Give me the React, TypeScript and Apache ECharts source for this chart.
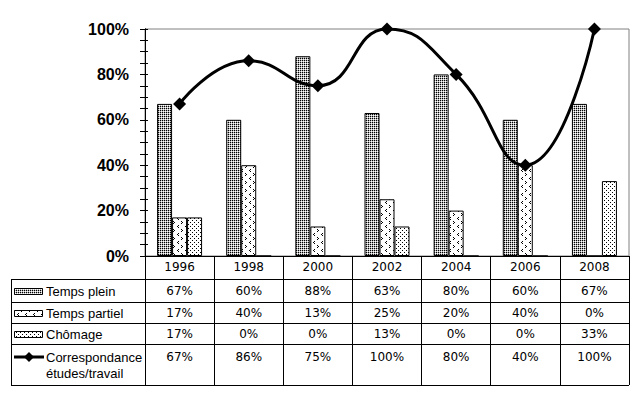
import React, { useEffect, useRef } from 'react';
import * as echarts from 'echarts';

const categories = ['1996', '1998', '2000', '2002', '2004', '2006', '2008'];
const tempsPlein = [67, 60, 88, 63, 80, 60, 67];
const tempsPartiel = [17, 40, 13, 25, 20, 40, 0];
const chomage = [17, 0, 0, 13, 0, 0, 33];
const correspondance = [67, 86, 75, 100, 80, 40, 100];
const seriesNames = ['Temps plein', 'Temps partiel', 'Chômage', 'Correspondance\nétudes/travail'];

function makePattern(w: number, h: number, pts: number[][], grey: number[][] = []) {
  const c = document.createElement('canvas');
  c.width = w;
  c.height = h;
  const ctx = c.getContext('2d')!;
  ctx.fillStyle = '#fff';
  ctx.fillRect(0, 0, w, h);
  ctx.fillStyle = '#000';
  pts.forEach(([x, y]) => ctx.fillRect(x, y, 1, 1));
  ctx.fillStyle = '#b4b4b4';
  grey.forEach(([x, y]) => ctx.fillRect(x, y, 1, 1));
  return { image: c.toDataURL(), repeat: 'repeat', imageWidth: w, imageHeight: h } as any;
}

const FONT = 'Arial, "Liberation Sans", sans-serif';
const NUMFONT = '"DejaVu Sans", Arial, sans-serif';

export default function App() {
  const ref = useRef<HTMLDivElement>(null);
  useEffect(() => {
    const chart = echarts.init(ref.current!, null, { renderer: 'svg' });
    const pPlein = makePattern(2, 2, [[0, 0]], [[1, 0], [0, 1]]);
    const pPartiel = makePattern(8, 8, [[2, 1], [1, 2], [2, 3], [5, 5], [6, 6], [5, 7]]);
    const pChom = makePattern(4, 4, [[0, 0], [2, 2]]);
    const patterns = [pPlein, pPartiel, pChom];
    const barData = [tempsPlein, tempsPartiel, chomage];

    const gridLeft = 145, gridTop = 29, gridRight = 10, gridBottom = 143;
    const axisY = 399 - gridBottom;
    const rowLines = [279, 302, 323, 344, 385];
    const tickLen = rowLines[rowLines.length - 1] - axisY;

    const yBase: any = {
      type: 'value', min: 0, max: 100, interval: 20, position: 'left',
      axisLine: { show: true, lineStyle: { color: '#000', width: 1 } },
      splitLine: { show: false },
    };

    const option: any = {
      animation: false,
      backgroundColor: '#fff',
      grid: { left: gridLeft, top: gridTop, right: gridRight, bottom: gridBottom, show: true, borderColor: '#808080', borderWidth: 1, backgroundColor: 'transparent' },
      xAxis: {
        type: 'category', data: categories,
        axisLine: { lineStyle: { color: '#000', width: 1 } },
        axisTick: { show: true, interval: 0, length: tickLen, lineStyle: { color: '#000' } },
        axisLabel: { interval: 0, color: '#000', fontSize: 12, fontFamily: NUMFONT, margin: 5 },
        splitLine: { show: false },
      },
      yAxis: [
        {
          ...yBase,
          axisTick: { show: true, length: 5, lineStyle: { color: '#000' } },
          minorTick: { show: true, splitNumber: 4, length: 5, lineStyle: { color: '#000' } },
          axisLabel: { formatter: '{value}%', color: '#000', fontSize: 16, fontWeight: 'bold', fontFamily: FONT, margin: 16 },
        },
        {
          ...yBase,
          axisTick: { show: true, inside: true, length: 3, lineStyle: { color: '#000' } },
          minorTick: { show: true, splitNumber: 4, length: 3, lineStyle: { color: '#000' } },
          axisLabel: { show: false },
        },
      ],
      series: [
        ...barData.map((d, i) => ({
          type: 'bar', name: seriesNames[i], data: d, barWidth: 15, barGap: '0%',
          itemStyle: { color: patterns[i], borderColor: '#000', borderWidth: 1 },
        })),
        {
          type: 'line', name: seriesNames[3], data: correspondance, smooth: 0.5,
          symbol: 'diamond', symbolSize: 13,
          lineStyle: { color: '#000', width: 3 },
          itemStyle: { color: '#000' },
          z: 5,
        },
      ],
    };
    chart.setOption(option);

    const xs = categories.map((_, i) => chart.convertToPixel({ xAxisIndex: 0 }, i) as number);
    const rightX = 639 - gridRight;
    const g: any[] = [];
    rowLines.forEach((y) => {
      g.push({ type: 'line', shape: { x1: 11, y1: y + 0.5, x2: rightX, y2: y + 0.5 }, style: { stroke: '#000', lineWidth: 1 } });
    });
    g.push({ type: 'line', shape: { x1: 11.5, y1: rowLines[0], x2: 11.5, y2: rowLines[rowLines.length - 1] + 1 }, style: { stroke: '#000', lineWidth: 1 } });

    const rowCenters = [291, 313, 334, 357];
    const allData = [tempsPlein, tempsPartiel, chomage, correspondance];
    allData.forEach((d, r) => {
      d.forEach((v, i) => {
        g.push({ type: 'text', x: xs[i], y: rowCenters[r], style: { text: v + '%', fill: '#000', font: '12px ' + NUMFONT, align: 'center', verticalAlign: 'middle' } });
      });
    });
    for (let r = 0; r < 3; r++) {
      g.push({ type: 'rect', shape: { x: 14.5, y: rowCenters[r] - 2.5, width: 28, height: 6 }, style: { fill: patterns[r], stroke: '#000', lineWidth: 1 } });
      g.push({ type: 'text', x: 46, y: rowCenters[r], style: { text: seriesNames[r], fill: '#000', font: '13px ' + FONT, align: 'left', verticalAlign: 'middle' } });
    }
    g.push({ type: 'line', shape: { x1: 14, y1: rowCenters[3], x2: 44, y2: rowCenters[3] }, style: { stroke: '#000', lineWidth: 3 } });
    g.push({ type: 'polygon', shape: { points: [[29, rowCenters[3] - 5], [34, rowCenters[3]], [29, rowCenters[3] + 5], [24, rowCenters[3]]] }, style: { fill: '#000' } });
    g.push({ type: 'text', x: 46, y: rowCenters[3] - 8, style: { text: seriesNames[3], fill: '#000', font: '13px ' + FONT, align: 'left', verticalAlign: 'top', lineHeight: 16 } });

    chart.setOption({ graphic: g });
    return () => chart.dispose();
  }, []);
  return <div ref={ref} style={{ position: 'fixed', left: 0, top: 0, width: 639, height: 399, background: '#fff' }} />;
}
